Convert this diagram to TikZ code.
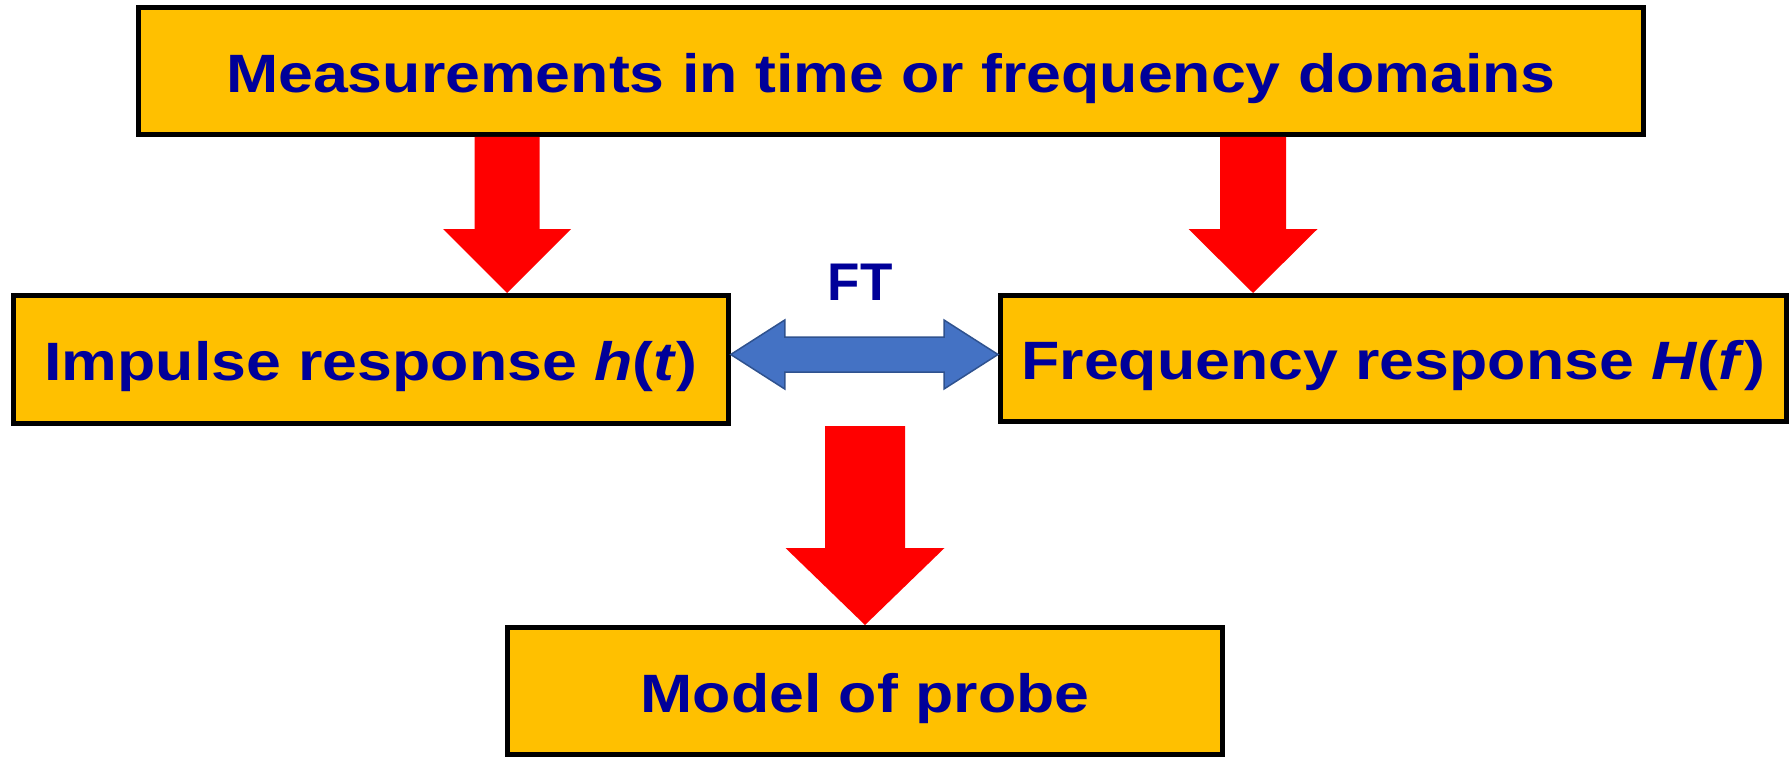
\documentclass[tikz,border=0pt]{standalone}
\usepackage{fontspec}
\setmainfont{Liberation Sans}[FakeStretch=1.16]
\newfontfamily\ftfont{Liberation Sans}
\usetikzlibrary{calc}
\definecolor{boxfill}{HTML}{FFC000}
\definecolor{txtblue}{HTML}{000099}
\definecolor{arrblue}{HTML}{4472C4}
\definecolor{arrblueedge}{HTML}{2F528F}
\begin{document}
\begin{tikzpicture}[x=1pt,y=-1pt,
  box/.style={draw=black, line width=5pt, fill=boxfill, inner sep=0pt, text=txtblue,
    font=\fontsize{54}{60}\selectfont\bfseries, text height=42.5pt, text depth=0pt},
  redarrow/.style={fill=red},
  ftarrow/.style={fill=arrblue, draw=arrblueedge, line width=1.5pt, line join=miter},
  ftlabel/.style={text=txtblue, inner sep=0pt, font=\ftfont\fontsize{53}{60}\selectfont\bfseries,
    text height=38pt, text depth=0pt}]
\useasboundingbox (0,0) rectangle (1792,757);
% boxes
\node[box, minimum width=1505pt, minimum height=127pt] (top) at (891,71) {Measurements in time or frequency domains};
\node[box, minimum width=714.5pt, minimum height=128pt] (imp) at (371,359.5) {Impulse response \textit{h}(\textit{t})};
\node[box, minimum width=786pt, minimum height=126pt] (freq) at (1393.5,358.5) {Frequency response \textit{H}(\textit{f})};
\node[box, minimum width=715.5pt, minimum height=127pt] (model) at (865,691) {Model of probe};
\node[ftlabel] (ft) at (860,281.5) {FT};
% helper coordinates
\coordinate (lx) at (507,0);
\coordinate (rx) at (1253,0);
\coordinate (mx) at (865,0);
\coordinate (by) at (0,354.5);
% left red arrow
\fill[redarrow] ($(top.south -| lx)+(-32.5,0)$) -- ($(top.south -| lx)+(32.5,0)$)
  -- ($(imp.north -| lx)+(32.5,-64)$) -- ($(imp.north -| lx)+(64,-64)$)
  -- (imp.north -| lx)
  -- ($(imp.north -| lx)+(-64,-64)$) -- ($(imp.north -| lx)+(-32.5,-64)$) -- cycle;
% right red arrow
\fill[redarrow] ($(top.south -| rx)+(-33,0)$) -- ($(top.south -| rx)+(33,0)$)
  -- ($(freq.north -| rx)+(33,-64)$) -- ($(freq.north -| rx)+(64.5,-64)$)
  -- (freq.north -| rx)
  -- ($(freq.north -| rx)+(-64.5,-64)$) -- ($(freq.north -| rx)+(-33,-64)$) -- cycle;
% bottom red arrow
\fill[redarrow] ($(imp.south -| mx)+(-40,0)$) -- ($(imp.south -| mx)+(40,0)$)
  -- ($(model.north)+(40,-77)$) -- ($(model.north)+(79.5,-77)$)
  -- (model.north)
  -- ($(model.north)+(-79.5,-77)$) -- ($(model.north)+(-40,-77)$) -- cycle;
% FT double arrow
\draw[ftarrow] (imp.east |- by) -- ($(imp.east |- by)+(54,-34.5)$) -- ($(imp.east |- by)+(54,-17.5)$)
  -- ($(freq.west |- by)+(-54,-17.5)$) -- ($(freq.west |- by)+(-54,-34.5)$)
  -- (freq.west |- by)
  -- ($(freq.west |- by)+(-54,34.5)$) -- ($(freq.west |- by)+(-54,17.5)$)
  -- ($(imp.east |- by)+(54,17.5)$) -- ($(imp.east |- by)+(54,34.5)$) -- cycle;
\end{tikzpicture}
\end{document}
